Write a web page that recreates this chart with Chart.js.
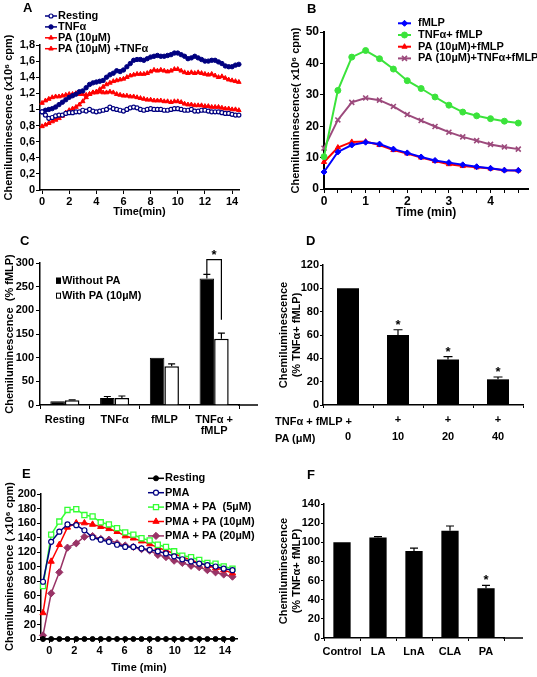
<!DOCTYPE html>
<html>
<head>
<meta charset="utf-8">
<script src="https://cdn.jsdelivr.net/npm/chart.js@4.4.1/dist/chart.umd.min.js"></script>
<style>
  body { margin: 0; background: #fff; width: 537px; height: 677px; position: relative; overflow: hidden; }
  canvas { position: absolute; }
  .pl { position: absolute; font: bold 13px 'Liberation Sans', Arial, sans-serif; line-height: 13px; color: #000; }
  .rh { position: absolute; font: bold 11px 'Liberation Sans', Arial, sans-serif; line-height: 11px; color: #000; white-space: pre; }
</style>
</head>
<body>
<canvas id="cA" width="268" height="220" style="left:0;top:0"></canvas>
<canvas id="cB" width="269" height="220" style="left:268px;top:0"></canvas>
<canvas id="cC" width="268" height="230" style="left:0;top:220px"></canvas>
<canvas id="cD" width="269" height="230" style="left:268px;top:220px"></canvas>
<canvas id="cE" width="268" height="227" style="left:0;top:450px"></canvas>
<canvas id="cF" width="269" height="227" style="left:268px;top:450px"></canvas>

<div class="pl" style="left:23px;top:1px">A</div>
<div class="pl" style="left:307px;top:2px">B</div>
<div class="pl" style="left:20px;top:234px">C</div>
<div class="pl" style="left:306px;top:234px">D</div>
<div class="pl" style="left:22px;top:467px">E</div>
<div class="pl" style="left:307px;top:468px">F</div>
<div class="rh" style="left:275px;top:416px">TNFα + fMLP +</div>
<div class="rh" style="left:275px;top:433px">PA (μM)</div>

<script>
// ---- panel A: chemiluminescence over 15 min (x10^6 cpm)
const aTime = [0, 0.25, 0.5, 0.75, 1, 1.25, 1.5, 1.75, 2, 2.25, 2.5, 2.75, 3, 3.25, 3.5, 3.75, 4, 4.25, 4.5, 4.75,
  5, 5.25, 5.5, 5.75, 6, 6.25, 6.5, 6.75, 7, 7.25, 7.5, 7.75, 8, 8.25, 8.5, 8.75, 9, 9.25, 9.5, 9.75,
  10, 10.25, 10.5, 10.75, 11, 11.25, 11.5, 11.75, 12, 12.25, 12.5, 12.75, 13, 13.25, 13.5, 13.75, 14, 14.25, 14.5];
const aResting = [0.97, 0.93, 0.89, 0.90, 0.92, 0.93, 0.93, 0.95, 0.96, 0.96, 0.97, 0.97, 0.99, 0.98, 1.00, 0.98, 0.97, 0.98, 0.99, 1.00,
  1.03, 1.01, 1.00, 0.99, 0.98, 1.00, 1.02, 1.03, 1.02, 1.00, 0.99, 1.00, 1.01, 1.00, 1.00, 1.00, 0.99, 0.99, 1.00, 1.01,
  1.01, 1.00, 0.99, 0.99, 1.00, 0.98, 0.98, 0.99, 0.99, 0.98, 0.97, 0.97, 0.97, 0.96, 0.95, 0.95, 0.94, 0.93, 0.93];
const aTnf = [0.97, 0.99, 1.00, 1.01, 1.03, 1.06, 1.09, 1.12, 1.15, 1.17, 1.19, 1.22, 1.23, 1.27, 1.31, 1.33, 1.34, 1.35, 1.36, 1.40,
  1.43, 1.45, 1.48, 1.47, 1.49, 1.53, 1.57, 1.61, 1.62, 1.62, 1.61, 1.63, 1.65, 1.66, 1.67, 1.66, 1.66, 1.67, 1.68, 1.70,
  1.70, 1.68, 1.66, 1.63, 1.64, 1.66, 1.64, 1.62, 1.60, 1.60, 1.61, 1.61, 1.59, 1.57, 1.54, 1.53, 1.53, 1.55, 1.56];
const aPa = [1.08, 1.11, 1.13, 1.15, 1.16, 1.16, 1.17, 1.18, 1.19, 1.19, 1.20, 1.19, 1.19, 1.18, 1.19, 1.21, 1.21, 1.22, 1.21, 1.21,
  1.22, 1.21, 1.19, 1.18, 1.17, 1.17, 1.16, 1.16, 1.15, 1.14, 1.13, 1.12, 1.12, 1.11, 1.11, 1.11, 1.10, 1.10, 1.09, 1.10,
  1.10, 1.09, 1.07, 1.06, 1.06, 1.05, 1.05, 1.05, 1.04, 1.04, 1.03, 1.03, 1.03, 1.02, 1.01, 1.01, 1.00, 1.00, 0.99];
const aPaTnf = [0.79, 0.81, 0.83, 0.85, 0.87, 0.89, 0.92, 0.96, 0.99, 1.01, 1.03, 1.06, 1.10, 1.15, 1.19, 1.21, 1.22, 1.25, 1.28, 1.31,
  1.33, 1.35, 1.36, 1.37, 1.38, 1.40, 1.42, 1.43, 1.44, 1.44, 1.44, 1.45, 1.47, 1.49, 1.48, 1.49, 1.48, 1.47, 1.48, 1.50,
  1.50, 1.48, 1.46, 1.45, 1.46, 1.45, 1.46, 1.45, 1.44, 1.43, 1.44, 1.42, 1.40, 1.41, 1.39, 1.37, 1.36, 1.35, 1.34];

// ---- panel B: fMLP response over 5 min
const bTime = [0, 0.333, 0.667, 1, 1.333, 1.667, 2, 2.333, 2.667, 3, 3.333, 3.667, 4, 4.333, 4.667];
const bFmlp = [5.4, 11.8, 14.0, 14.9, 14.3, 12.7, 11.5, 10.2, 9.1, 8.4, 7.7, 7.1, 6.6, 6.0, 5.9];
const bTnfFmlp = [10.3, 31.4, 42.0, 44.1, 41.5, 38.2, 34.5, 32.0, 29.3, 26.7, 24.5, 23.3, 22.4, 21.6, 21.0];
const bPaFmlp = [8.6, 13.2, 15.0, 15.1, 14.0, 12.4, 11.3, 10.0, 8.9, 7.9, 7.3, 6.9, 6.5, 6.0, 5.9];
const bPaTnfFmlp = [13.0, 22.0, 27.6, 29.0, 28.3, 26.3, 23.7, 21.8, 19.9, 18.1, 16.6, 15.4, 14.2, 13.4, 12.7];

// ---- panel C: % fMLP
const cCats = ['Resting', 'TNFα', 'fMLP', ['TNFα +', 'fMLP']];
const cWithout = [8, 15, 100, 267];
const cWithoutErr = [0, 3, 0, 9];
const cWith = [10, 15, 82, 140];
const cWithErr = [1, 4, 5, 12];

// ---- panel D: % TNFα+fMLP vs PA dose
const dTreat = ['', '+', '+', '+'];
const dPaDose = ['0', '10', '20', '40'];
const dValues = [100, 60, 39, 22];
const dErr = [0, 4.5, 2.5, 2];
const dSig = [false, true, true, true];

// ---- panel E: PMA response over 15 min
const eTime = [-0.5, 0.15, 0.8, 1.45, 2.15, 2.8, 3.45, 4.1, 4.75, 5.4, 6.05, 6.7, 7.35, 8.0, 8.65, 9.3, 9.95, 10.6, 11.3, 11.95, 12.6, 13.25, 13.9, 14.6];
const eResting = [0, 0, 0, 0, 0, 0, 0, 0, 0, 0, 0, 0, 0, 0, 0, 0, 0, 0, 0, 0, 0, 0, 0, 0];
const ePma = [79, 134, 148, 158, 157, 150, 140, 137, 134, 130, 127, 127, 125, 123, 121, 118, 114, 110, 107, 104, 102, 100, 97, 95];
const ePa5 = [73, 144, 162, 178, 179, 171, 169, 161, 158, 153, 147, 144, 139, 136, 130, 127, 121, 115, 113, 109, 105, 104, 100, 97];
const ePa10 = [36, 107, 130, 154, 160, 160, 158, 155, 152, 148, 142, 139, 135, 131, 126, 122, 118, 113, 109, 105, 101, 98, 95, 91];
const ePa20 = [5, 63, 92, 126, 132, 141, 142, 138, 137, 132, 129, 127, 124, 122, 116, 113, 108, 105, 101, 99, 95, 92, 89, 86];

// ---- panel F: other fatty acids
const fCats = ['Control', 'LA', 'LnA', 'CLA', 'PA'];
const fValues = [100, 105, 91, 112, 52];
const fErr = [0, 1, 3, 5, 3];
const fSig = [false, false, false, false, true];

const FONT = "'Liberation Sans', Arial, sans-serif";
Chart.defaults.font.family = FONT;
Chart.defaults.font.weight = 'bold';
Chart.defaults.font.size = 11;
Chart.defaults.color = '#000';
Chart.defaults.animation = false;
Chart.defaults.responsive = false;
Chart.defaults.plugins.legend.display = false;
Chart.defaults.plugins.tooltip.enabled = false;

const NAVY = '#000080';
const RED = '#ff0000';

// legend drawn at fixed spot inside the canvas, one row per dataset
const panelLegend = {
  id: 'panelLegend',
  afterDraw(chart, args, o) {
    if (o.x === undefined) return;
    const ctx = chart.ctx;
    ctx.save();
    ctx.font = `bold ${o.size}px ${FONT}`;
    ctx.textBaseline = 'middle';
    chart.data.datasets.forEach((ds, i) => {
      const y = o.y + i * o.rowH;
      let tx;
      if (o.box) {
        ctx.fillStyle = ds.backgroundColor;
        ctx.fillRect(o.x, y - o.boxH / 2, o.boxW, o.boxH);
        ctx.strokeStyle = '#000';
        ctx.lineWidth = 1;
        ctx.strokeRect(o.x + 0.5, y - o.boxH / 2 + 0.5, o.boxW - 1, o.boxH - 1);
        tx = o.x + o.boxW + o.gap;
      } else {
        ctx.strokeStyle = ds.borderColor;
        ctx.lineWidth = ds.borderWidth;
        ctx.beginPath();
        ctx.moveTo(o.x, y);
        ctx.lineTo(o.x + o.lineW, y);
        ctx.stroke();
        ctx.fillStyle = ds.pointBackgroundColor;
        ctx.strokeStyle = ds.pointBorderColor;
        ctx.lineWidth = ds.pointBorderWidth;
        Chart.helpers.drawPoint(ctx, { pointStyle: ds.pointStyle, radius: ds.pointRadius, rotation: 0, borderWidth: ds.pointBorderWidth }, o.x + o.lineW / 2, y);
        tx = o.x + o.lineW + o.gap;
      }
      ctx.fillStyle = '#000';
      ctx.fillText(ds.label, tx, y);
    });
    ctx.restore();
  }
};

// error bars, asterisks, significance bracket, longer x axis line
const extras = {
  id: 'extras',
  afterDatasetsDraw(chart, args, o) {
    const ctx = chart.ctx, ys = chart.scales.y, area = chart.chartArea;
    ctx.save();
    ctx.strokeStyle = '#000';
    ctx.fillStyle = '#000';
    ctx.lineWidth = 1.2;
    ctx.textAlign = 'center';
    ctx.textBaseline = 'alphabetic';
    ctx.font = `bold 13px ${FONT}`;
    const cap = o.cap || 4;
    chart.data.datasets.forEach((ds, di) => {
      if (!ds.errors) return;
      chart.getDatasetMeta(di).data.forEach((bar, i) => {
        const err = ds.errors[i];
        const top = ys.getPixelForValue(ds.data[i] + err);
        if (err > 0) {
          ctx.beginPath();
          ctx.moveTo(bar.x, bar.y);
          ctx.lineTo(bar.x, top);
          ctx.moveTo(bar.x - cap, top);
          ctx.lineTo(bar.x + cap, top);
          ctx.stroke();
        }
        if (ds.stars && ds.stars[i]) ctx.fillText('*', bar.x, top - 1);
      });
    });
    if (o.bracket) {
      const b = o.bracket;
      const dl = chart.data.datasets[b.left[0]];
      const pl = chart.getDatasetMeta(b.left[0]).data[b.left[1]];
      const pr = chart.getDatasetMeta(b.right[0]).data[b.right[1]];
      const y0 = ys.getPixelForValue(dl.data[b.left[1]] + dl.errors[b.left[1]]);
      const yt = ys.getPixelForValue(b.top);
      const y1 = ys.getPixelForValue(b.rightEnd);
      ctx.beginPath();
      ctx.moveTo(pl.x, y0);
      ctx.lineTo(pl.x, yt);
      ctx.lineTo(pr.x, yt);
      ctx.lineTo(pr.x, y1);
      ctx.stroke();
      ctx.fillText('*', (pl.x + pr.x) / 2, yt - 1);
    }
    if (o.extendX) {
      ctx.lineWidth = 1.5;
      ctx.beginPath();
      ctx.moveTo(area.right - 1, area.bottom);
      ctx.lineTo(area.right + o.extendX, area.bottom);
      ctx.stroke();
    }
    ctx.restore();
  }
};

function lineSet(label, xs, ys, s) {
  return {
    label: label,
    data: xs.map((x, i) => ({ x: x, y: ys[i] })),
    borderColor: s.color,
    borderWidth: s.lw || 1.5,
    backgroundColor: s.fill || s.color,
    pointStyle: s.style,
    pointRadius: s.r,
    pointBackgroundColor: s.fill || s.color,
    pointBorderColor: s.color,
    pointBorderWidth: s.pbw || 1,
    tension: 0,
    clip: false
  };
}

function linAxis(o) {
  const ticks = { stepSize: o.step, includeBounds: false, padding: o.pad === undefined ? 2 : o.pad, autoSkip: false, maxRotation: 0, font: { size: o.fs || 11 } };
  if (o.fmt) ticks.callback = o.fmt;
  return {
    type: 'linear', min: o.min, max: o.max,
    border: { color: '#000', width: o.bw || 1.5 },
    grid: { drawOnChartArea: false, drawTicks: true, tickLength: o.tl || 4, color: '#000', lineWidth: 1 },
    ticks: ticks,
    title: o.title ? { display: true, text: o.title, padding: o.tp, font: { size: o.tfs || 11, lineHeight: o.tlh || 1.2 } } : { display: false },
    afterFit: s => { if (o.w) s.width = o.w; if (o.h) s.height = o.h; }
  };
}

function catAxis(o) {
  return {
    type: 'category',
    border: { color: '#000', width: 1.5 },
    grid: { drawOnChartArea: false, drawTicks: true, tickLength: o.tl || 4, color: '#000', lineWidth: 1, offset: true },
    ticks: { padding: o.pad, autoSkip: false, maxRotation: 0, font: { size: 11, lineHeight: o.lh || 1.2 } },
    afterFit: s => { s.height = o.h; }
  };
}

const commaFmt = v => {
  const r = Math.round(v * 10) / 10;
  return Number.isInteger(r) ? String(r) : r.toFixed(1).replace('.', ',');
};
const thirdFmt = v => Math.abs(v - Math.round(v)) < 1e-6 ? String(Math.round(v)) : '';

// A
new Chart(document.getElementById('cA'), {
  type: 'line',
  data: { datasets: [
    lineSet('Resting', aTime, aResting, { color: NAVY, style: 'circle', r: 2, fill: '#fff', pbw: 1.2 }),
    lineSet('TNFα', aTime, aTnf, { color: NAVY, style: 'circle', r: 2.2 }),
    lineSet('PA (10µM)', aTime, aPa, { color: RED, style: 'triangle', r: 2.6 }),
    lineSet('PA (10µM) +TNFα', aTime, aPaTnf, { color: RED, style: 'triangle', r: 2.6 })
  ]},
  options: {
    layout: { padding: { left: 0, top: 45, right: 29, bottom: 0 } },
    scales: {
      x: linAxis({ min: -0.15, max: 14.51, step: 2, h: 30, pad: 1, title: 'Time(min)', tp: { top: 0, bottom: 1 } }),
      y: linAxis({ min: 0, max: 1.8, step: 0.2, w: 40, pad: 1, title: 'Chemiluminescence (x10⁶ cpm)', tp: { top: 2, bottom: 0 }, fmt: commaFmt })
    },
    plugins: { panelLegend: { x: 45, y: 16, rowH: 10.9, lineW: 12, gap: 1, size: 11 } }
  },
  plugins: [panelLegend]
});

// B
new Chart(document.getElementById('cB'), {
  type: 'line',
  data: { datasets: [
    lineSet('fMLP', bTime, bFmlp, { color: '#0000ff', style: 'rectRot', r: 3, lw: 2 }),
    lineSet('TNFα+ fMLP', bTime, bTnfFmlp, { color: '#3be33b', style: 'circle', r: 3, lw: 2 }),
    lineSet('PA (10µM)+fMLP', bTime, bPaFmlp, { color: RED, style: 'triangle', r: 3, lw: 2 }),
    lineSet('PA (10µM)+TNFα+fMLP', bTime, bPaTnfFmlp, { color: '#9c4a7c', style: 'crossRot', r: 3.5, lw: 2, pbw: 1.6 })
  ]},
  options: {
    layout: { padding: { left: 0, top: 32, right: 9, bottom: 0 } },
    scales: {
      x: linAxis({ min: 0, max: 4.9, step: 1 / 3, h: 31, pad: 1, bw: 2, fs: 12, fmt: thirdFmt, title: 'Time (min)', tfs: 12, tp: { top: 0, bottom: 0 } }),
      y: linAxis({ min: 0, max: 50, step: 10, w: 56, pad: 1, bw: 2, fs: 12, title: 'Chemiluminescence( x10⁶ cpm)', tp: { top: 21, bottom: 0 } })
    },
    plugins: { panelLegend: { x: 130, y: 23.3, rowH: 11.7, lineW: 13, gap: 7, size: 11 } }
  },
  plugins: [panelLegend]
});

// C
new Chart(document.getElementById('cC'), {
  type: 'bar',
  data: { labels: cCats, datasets: [
    { label: 'Without PA', data: cWithout, errors: cWithoutErr, backgroundColor: '#000', borderColor: '#000', borderWidth: 1 },
    { label: 'With PA (10µM)', data: cWith, errors: cWithErr, backgroundColor: '#fff', borderColor: '#000', borderWidth: 1.5 }
  ]},
  options: {
    datasets: { bar: { categoryPercentage: 0.585, barPercentage: 1 } },
    layout: { padding: { left: 0, top: 43, right: 29, bottom: 0 } },
    scales: {
      x: catAxis({ h: 45, pad: 5, lh: 1.05 }),
      y: linAxis({ min: 0, max: 300, step: 50, w: 40, pad: 2, title: 'Chemiluminescence  (% fMLP)', tp: { top: 3, bottom: 0 } })
    },
    plugins: {
      panelLegend: { box: true, x: 56, y: 60.7, rowH: 15, boxW: 5, boxH: 6, gap: 1, size: 11 },
      extras: { cap: 3.5, extendX: 19, bracket: { left: [0, 3], right: [1, 3], top: 307, rightEnd: 180 } }
    }
  },
  plugins: [panelLegend, extras]
});

// D
new Chart(document.getElementById('cD'), {
  type: 'bar',
  data: { labels: dTreat.map((t, i) => [t, dPaDose[i]]), datasets: [
    { label: 'TNFα + fMLP', data: dValues, errors: dErr, stars: dSig, backgroundColor: '#000', borderColor: '#000', borderWidth: 0 }
  ]},
  options: {
    datasets: { bar: { categoryPercentage: 1, barPercentage: 0.44 } },
    layout: { padding: { left: 0, top: 45, right: 14, bottom: 0 } },
    scales: {
      x: catAxis({ h: 45, pad: 4, lh: 1.5, tl: 3 }),
      y: linAxis({ min: 0, max: 120, step: 20, w: 55, tl: 3, pad: 1, title: ['Chemiluminescence', '(% TNFα+ fMLP)'], tlh: 1.15, tp: { top: 10, bottom: 0 } })
    },
    plugins: { extras: { cap: 4.5 } }
  },
  plugins: [extras]
});

// E
new Chart(document.getElementById('cE'), {
  type: 'line',
  data: { datasets: [
    lineSet('Resting', eTime, eResting, { color: '#000', style: 'circle', r: 2.5 }),
    lineSet('PMA', eTime, ePma, { color: NAVY, style: 'circle', r: 2.5, fill: '#fff', pbw: 1.2 }),
    lineSet('PMA + PA  (5µM)', eTime, ePa5, { color: '#33ff33', style: 'rect', r: 3.6, fill: '#fff', pbw: 1.3 }),
    lineSet('PMA + PA (10µM)', eTime, ePa10, { color: RED, style: 'triangle', r: 3.6 }),
    lineSet('PMA + PA (20µM)', eTime, ePa20, { color: '#993366', style: 'rectRot', r: 3.6 })
  ]},
  options: {
    layout: { padding: { left: 0, top: 44, right: 31, bottom: 0 } },
    scales: {
      x: linAxis({ min: -0.66, max: 14.96, step: 2, h: 38, pad: 1, title: 'Time (min)', tp: { top: 0, bottom: 2 } }),
      y: linAxis({ min: 0, max: 200, step: 20, w: 41, pad: 1, title: 'Chemiluminescence ( x10⁶ cpm)', tp: { top: 3, bottom: 0 } })
    },
    plugins: { panelLegend: { x: 148, y: 28.3, rowH: 14.4, lineW: 16, gap: 1, size: 11 } }
  },
  plugins: [panelLegend]
});

// F
new Chart(document.getElementById('cF'), {
  type: 'bar',
  data: { labels: fCats, datasets: [
    { label: 'TNFα+ fMLP', data: fValues, errors: fErr, stars: fSig, backgroundColor: '#000', borderColor: '#000', borderWidth: 0 }
  ]},
  options: {
    datasets: { bar: { categoryPercentage: 1, barPercentage: 0.48 } },
    layout: { padding: { left: 0, top: 54, right: 33, bottom: 0 } },
    scales: {
      x: catAxis({ h: 39, pad: 4, tl: 3 }),
      y: linAxis({ min: 0, max: 140, step: 20, w: 56, tl: 3, pad: 1, title: ['Chemiluminescence', '(% TNFα+ fMLP)'], tlh: 1.15, tp: { top: 10, bottom: 0 } })
    },
    plugins: { extras: { cap: 4, extendX: 19 } }
  },
  plugins: [extras]
});
</script>
</body>
</html>
